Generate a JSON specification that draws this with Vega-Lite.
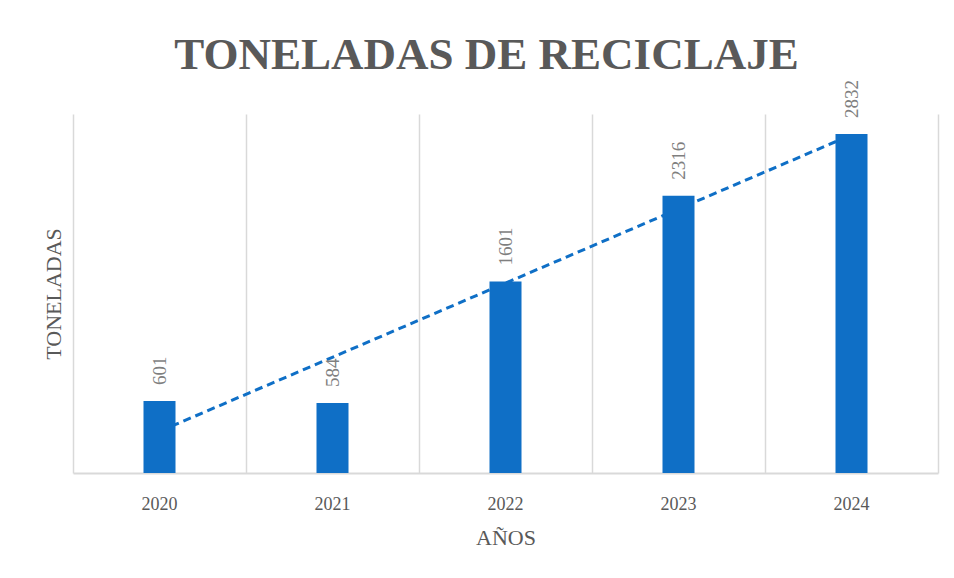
{
  "$schema": "https://vega.github.io/schema/vega-lite/v6.json",
  "width": 865,
  "height": 359,
  "autosize": {"type": "none"},
  "padding": {"left": 73, "top": 114, "right": 16, "bottom": 105},
  "background": "white",
  "config": {"view": {"stroke": null}},
  "title": {
    "text": "TONELADAS DE RECICLAJE",
    "font": "Liberation Serif",
    "fontSize": 45,
    "fontWeight": "bold",
    "color": "#595959",
    "anchor": "middle",
    "dx": -19,
    "offset": 2
  },
  "data": {
    "values": [
      {"year": 2020, "toneladas": 601},
      {"year": 2021, "toneladas": 584},
      {"year": 2022, "toneladas": 1601},
      {"year": 2023, "toneladas": 2316},
      {"year": 2024, "toneladas": 2832}
    ]
  },
  "encoding": {
    "x": {
      "field": "year",
      "type": "ordinal",
      "scale": {"paddingInner": 0, "paddingOuter": 0},
      "axis": {
        "title": "AÑOS",
        "grid": true,
        "gridColor": "#d9d9d9",
        "gridWidth": 1.5,
        "bandPosition": 1,
        "tickExtra": true,
        "ticks": false,
        "domain": true,
        "domainColor": "#d9d9d9",
        "domainWidth": 2,
        "labelAngle": 0,
        "labelFont": "Liberation Serif",
        "labelFontSize": 18,
        "labelColor": "#595959",
        "labelPadding": 22,
        "titleFont": "Liberation Serif",
        "titleFontSize": 22,
        "titleFontWeight": "normal",
        "titleColor": "#595959",
        "titlePadding": 14
      }
    }
  },
  "layer": [
    {
      "transform": [{"regression": "toneladas", "on": "year"}],
      "mark": {"type": "line", "strokeDash": [8, 5], "strokeWidth": 3, "color": "#0F6FC6"},
      "encoding": {
        "y": {"field": "toneladas", "type": "quantitative", "scale": {"domain": [0, 3000]}}
      }
    },
    {
      "mark": {"type": "bar", "color": "#0F6FC6", "width": {"band": 0.185}},
      "encoding": {
        "y": {
          "field": "toneladas",
          "type": "quantitative",
          "scale": {"domain": [0, 3000]},
          "axis": {
            "title": "TONELADAS",
            "labels": false,
            "ticks": false,
            "domain": false,
            "grid": false,
            "titleFont": "Liberation Serif",
            "titleFontSize": 22,
            "titleFontWeight": "normal",
            "titleColor": "#595959",
            "titlePadding": 8
          }
        }
      }
    },
    {
      "mark": {
        "type": "text",
        "angle": -90,
        "align": "left",
        "baseline": "middle",
        "dx": 16,
        "font": "Liberation Serif",
        "fontSize": 19,
        "color": "#7f7f7f"
      },
      "encoding": {
        "y": {"field": "toneladas", "type": "quantitative"},
        "text": {"field": "toneladas", "type": "quantitative"}
      }
    }
  ]
}
